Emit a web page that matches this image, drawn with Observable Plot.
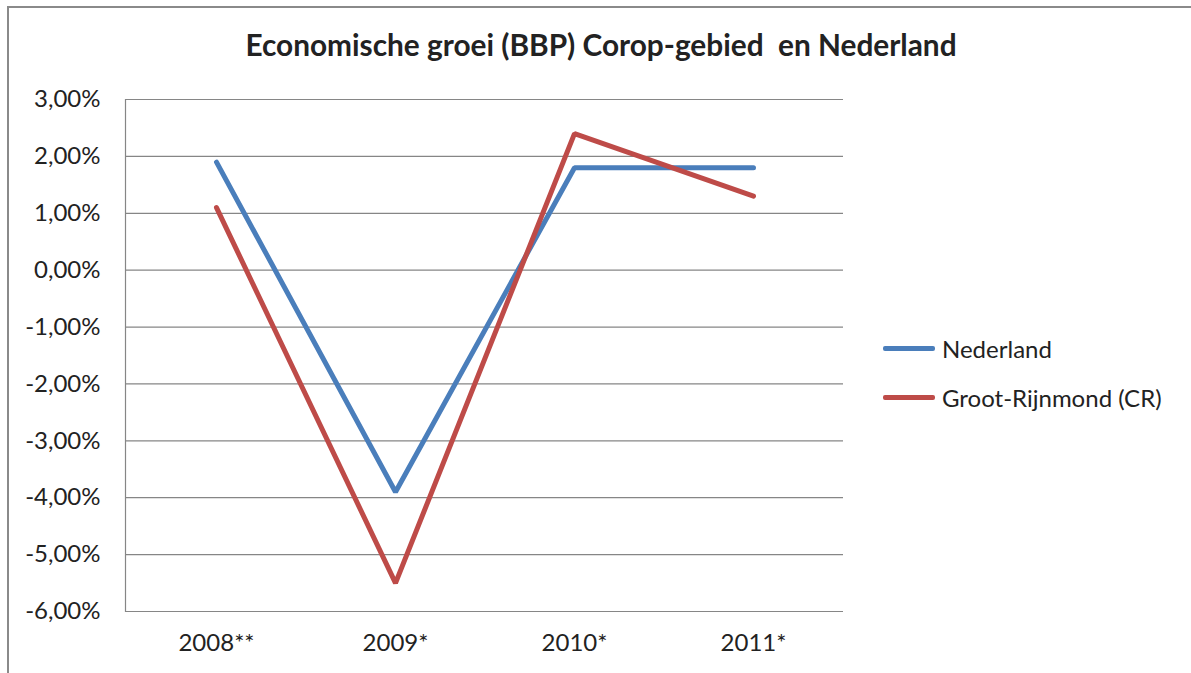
<!DOCTYPE html>
<html>
<head>
<meta charset="utf-8">
<script src="https://cdn.jsdelivr.net/npm/d3@7"></script>
<script src="https://cdn.jsdelivr.net/npm/@observablehq/plot@0.6"></script>
<style>
  html, body { margin: 0; padding: 0; background: #fff; }
  #wrap { position: relative; width: 1191px; height: 673px; overflow: hidden; font-family: Lato, "Open Sans", sans-serif; color: #222; }
  #border { position: absolute; left: 7px; top: 6px; width: 1300px; height: 800px; border-left: 2px solid #8a8a8a; border-top: 2px solid #8a8a8a; }
  #title { position: absolute; left: 0; top: 27px; width: 1202px; text-align: center; font-weight: bold; font-size: 29.8px; line-height: 36px; white-space: pre; }
  #chart { position: absolute; left: 0; top: 0; }
  #legend { position: absolute; left: 883px; top: 336px; font-size: 24px; }
  .item { display: flex; align-items: center; height: 25px; margin-bottom: 24px; }
  .swatch { width: 52px; height: 4.5px; border-radius: 2px; margin-right: 7px; }
</style>
</head>
<body>
<div id="wrap">
  <div id="border"></div>
  <div id="title"></div>
  <div id="chart"></div>
  <div id="legend"></div>
</div>
<script>
const titleText = "Economische groei (BBP) Corop-gebied  en Nederland";
const years = ["2008**", "2009*", "2010*", "2011*"];
const seriesNames = ["Nederland", "Groot-Rijnmond (CR)"];
const nederland = [1.9, -3.9, 1.8, 1.8];
const grootRijnmond = [1.1, -5.5, 2.4, 1.3];
const colors = ["#4a7ebb", "#be4b48"];
const yTicks = [-6, -5, -4, -3, -2, -1, 0, 1, 2, 3];

const data = [];
[nederland, grootRijnmond].forEach((vals, s) => {
  vals.forEach((v, i) => data.push({year: years[i], value: v, series: seriesNames[s]}));
});

const fmt = d => d.toFixed(2).replace(".", ",") + "%";

const chart = Plot.plot({
  width: 1191,
  height: 673,
  marginLeft: 125,
  marginRight: 348,
  marginTop: 99,
  marginBottom: 62,
  style: {fontFamily: "Lato, 'Open Sans', sans-serif", fontSize: "24px", color: "#222", background: "transparent"},
  x: {type: "point", domain: years, padding: 0.5, label: null},
  y: {domain: [-6, 3], label: null},
  color: {domain: seriesNames, range: colors},
  marks: [
    Plot.gridY(yTicks, {stroke: "#868686", strokeOpacity: 1, strokeWidth: 1.2}),
    Plot.frame({anchor: "left", stroke: "#868686", strokeWidth: 1.2}),
    Plot.axisY(yTicks, {tickSize: 0, tickPadding: 25, tickFormat: fmt, label: null, fontSize: 24}),
    Plot.axisX({tickSize: 0, tickPadding: 22, label: null, fontSize: 24}),
    Plot.line(data, {x: "year", y: "value", z: "series", stroke: "series", strokeWidth: 5, strokeLinejoin: "miter", strokeLinecap: "round"})
  ]
});
document.getElementById("chart").appendChild(chart);
document.getElementById("title").textContent = titleText;

const legend = document.getElementById("legend");
seriesNames.forEach((name, i) => {
  const item = document.createElement("div");
  item.className = "item";
  const sw = document.createElement("div");
  sw.className = "swatch";
  sw.style.background = colors[i];
  const label = document.createElement("span");
  label.textContent = name;
  item.appendChild(sw);
  item.appendChild(label);
  legend.appendChild(item);
});
</script>
</body>
</html>
